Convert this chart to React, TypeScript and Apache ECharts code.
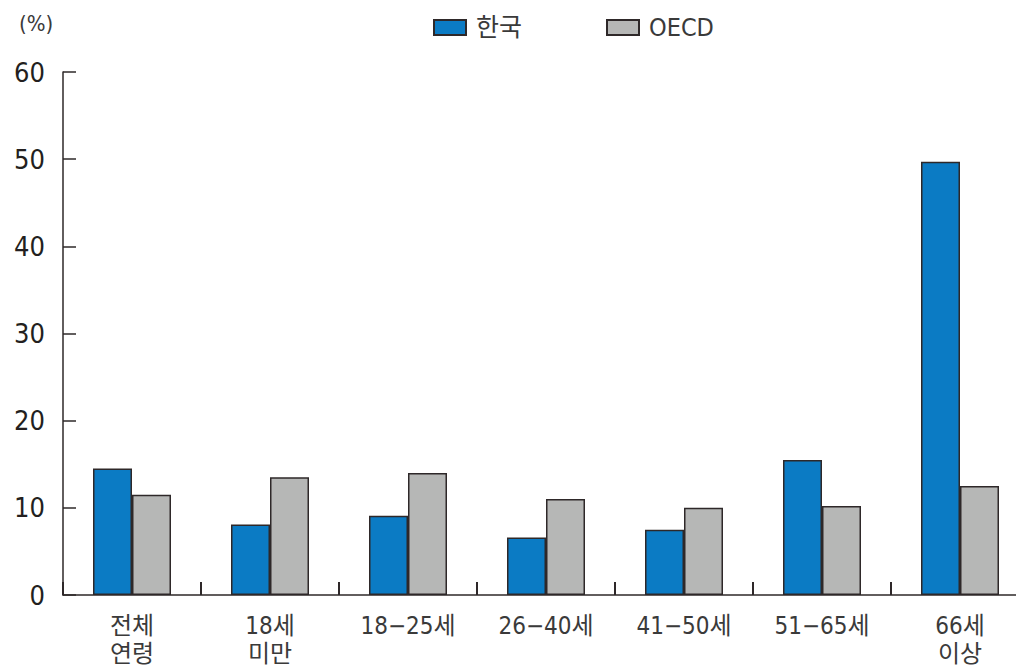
import React, { useEffect, useRef } from "react";
import * as echarts from "echarts";

const categories = ["전체\n연령", "18세\n미만", "18−25세", "26−40세", "41−50세", "51−65세", "66세\n이상"];
const koreaValues = [14.5, 8.1, 9.1, 6.6, 7.5, 15.5, 49.7];
const oecdValues = [11.5, 13.5, 14.0, 11.0, 10.0, 10.2, 12.5];
const seriesNames = ["한국", "OECD"];

const FONT = "'DejaVu Sans Condensed', 'Noto Sans CJK KR', sans-serif";
const INK = "#2e2829";

export default function App() {
  const ref = useRef<HTMLDivElement>(null);

  useEffect(() => {
    if (!ref.current) return;
    const chart = echarts.init(ref.current, null, { renderer: "svg" });
    chart.setOption({
      animation: false,
      backgroundColor: "#ffffff",
      textStyle: { fontFamily: FONT },
      legend: {
        left: 428,
        top: 10,
        icon: "rect",
        itemWidth: 32,
        itemHeight: 15,
        itemGap: 84,
        textStyle: { fontSize: 25, color: "#3a3a3a", fontFamily: FONT, padding: [0, 0, 0, 5] },
        data: seriesNames,
      },
      graphic: [
        {
          type: "text",
          left: 19,
          top: 12,
          style: { text: "(%)", fontSize: 22, fill: "#3a3a3a", fontFamily: FONT },
        },
      ],
      grid: { left: 63, top: 72, width: 966, height: 523, containLabel: false },
      xAxis: {
        type: "category",
        data: categories,
        axisLine: { lineStyle: { color: INK, width: 1.5 } },
        axisTick: { show: true, interval: 0, inside: true, length: 13, alignWithLabel: false, lineStyle: { color: INK, width: 2 } },
        axisLabel: { fontSize: 24, lineHeight: 28, color: "#3a3a3a", margin: 17, fontFamily: FONT, interval: 0 },
      },
      yAxis: {
        type: "value",
        min: 0,
        max: 60,
        interval: 10,
        splitLine: { show: false },
        axisLine: { show: true, lineStyle: { color: INK, width: 1.5 } },
        axisTick: { show: true, inside: true, length: 13, lineStyle: { color: INK, width: 1.5 } },
        axisLabel: { fontSize: 27, color: "#231f20", margin: 18, fontFamily: FONT },
      },
      series: [
        {
          name: seriesNames[0],
          type: "bar",
          data: koreaValues,
          barWidth: 39,
          barGap: "0%",
          itemStyle: { color: "#0b7bc4", borderColor: INK, borderWidth: 1.5 },
        },
        {
          name: seriesNames[1],
          type: "bar",
          data: oecdValues,
          barWidth: 39,
          itemStyle: { color: "#b6b7b6", borderColor: INK, borderWidth: 1.5 },
        },
      ],
    });
    return () => chart.dispose();
  }, []);

  return (
    <div style={{ position: "absolute", left: 0, top: 0, width: 1016, height: 668, overflow: "hidden", background: "#fff" }}>
      <div ref={ref} style={{ width: 1040, height: 668 }} />
    </div>
  );
}
